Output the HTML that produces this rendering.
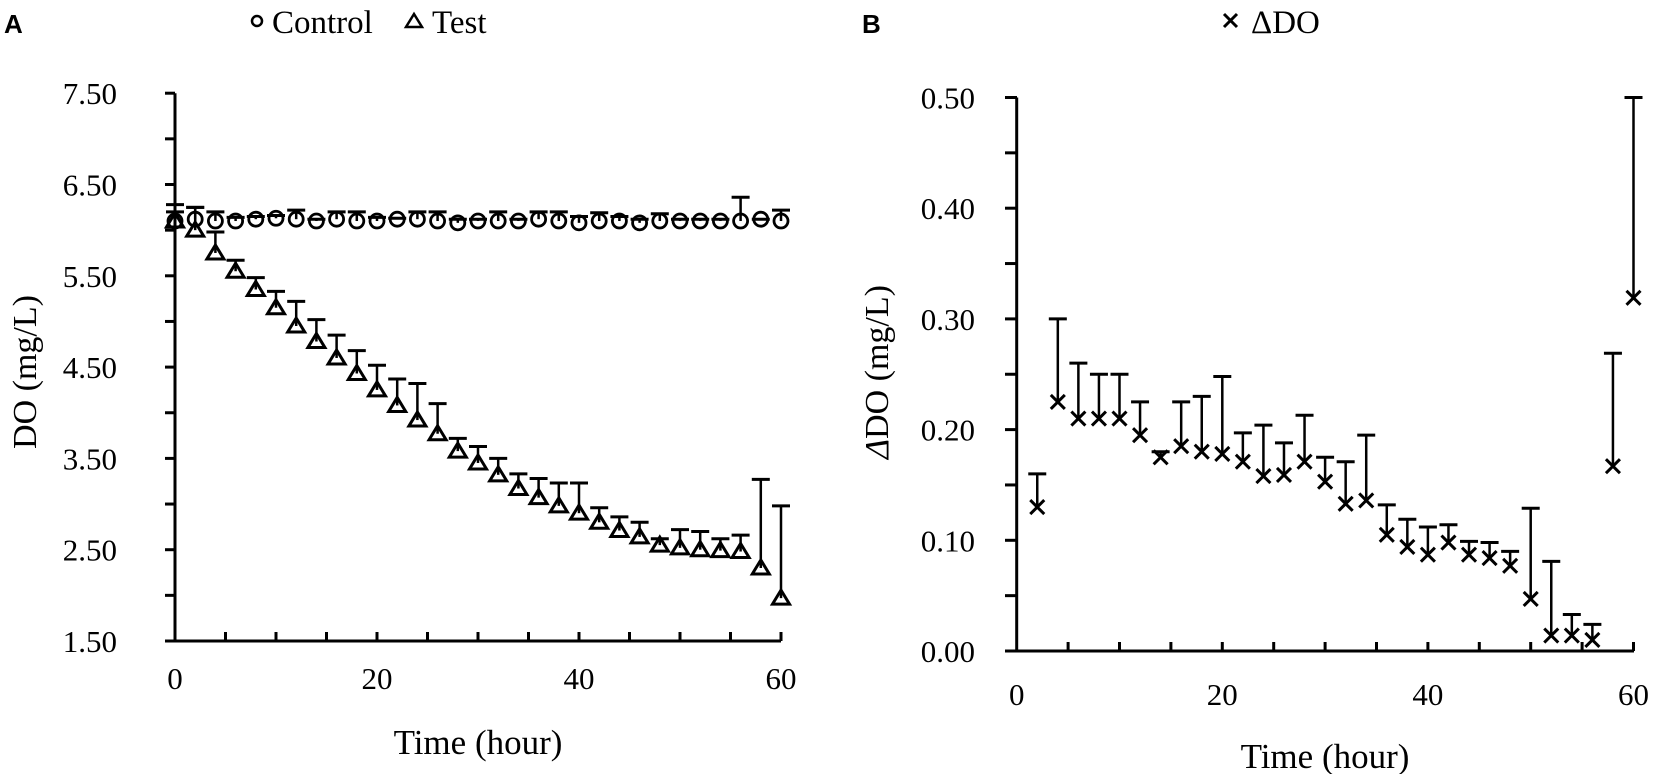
<!DOCTYPE html>
<html><head><meta charset="utf-8">
<style>
html,body{margin:0;padding:0;background:#fff;}
svg{display:block;}
text{font-family:"Liberation Serif",serif;fill:#000;}
</style></head>
<body>
<svg id="s" width="1656" height="774" viewBox="0 0 1656 774" xmlns="http://www.w3.org/2000/svg">
<text x="4" y="33" style="font-family:'Liberation Sans',sans-serif;font-weight:bold;font-size:26px">A</text>
<text x="862" y="33" style="font-family:'Liberation Sans',sans-serif;font-weight:bold;font-size:26px">B</text>
<circle cx="257" cy="21" r="5" fill="none" stroke="#000" stroke-width="2.5"/>
<text x="272" y="33" font-size="33">Control</text>
<polygon points="406,27 422,27 414,14" fill="none" stroke="#000" stroke-width="2.5"/>
<text x="432" y="33" font-size="33">Test</text>
<path d="M1224,14 L1237,27 M1237,14 L1224,27" stroke="#000" stroke-width="3"/>
<text x="1251" y="33" font-size="33">ΔDO</text>
<text transform="translate(36,372) rotate(-90)" text-anchor="middle" font-size="34">DO (mg/L)</text>
<text transform="translate(888,372) rotate(-90)" text-anchor="middle" font-size="34"><tspan font-style="italic">Δ</tspan>DO (mg/L)</text>
<text x="478" y="754" text-anchor="middle" font-size="35">Time (hour)</text>
<text x="1325" y="768" text-anchor="middle" font-size="35">Time (hour)</text>
<g id="g"></g>
</svg>
<script>
var g=document.getElementById('g'),h='';
function L(x1,y1,x2,y2,w){h+='<line x1="'+x1+'" y1="'+y1+'" x2="'+x2+'" y2="'+y2+'" stroke="#000" stroke-width="'+(w||3)+'"/>';}
function T(x,y,s,a){h+='<text x="'+x+'" y="'+y+'" font-size="31" text-anchor="'+(a||'middle')+'">'+s+'</text>';}
// Panel A
var ax=function(t){return 175+10.1*t}, ay=function(v){return 641-(v-1.5)*91.3};
L(175,ay(7.5),175,641);L(165,641,781,641);
for(var v=1.5;v<=7.51;v+=0.5){var y=ay(v);L(165,y,175,y);}
for(var v=1.5;v<=7.51;v+=1){T(117,ay(v)+11,v.toFixed(2),'end');}
for(var t=5;t<=60;t+=5){L(ax(t),641,ax(t),632);}
[0,20,40,60].forEach(function(t){T(ax(t),689,t)});
var ctl=[6.10,6.12,6.1,6.1,6.12,6.13,6.12,6.1,6.12,6.1,6.1,6.12,6.12,6.1,6.08,6.1,6.1,6.1,6.12,6.1,6.08,6.1,6.1,6.08,6.1,6.1,6.1,6.1,6.1,6.12,6.1];
var ctop=[6.28,6.25,6.2,6.14,6.15,6.16,6.22,6.12,6.2,6.2,6.14,6.13,6.2,6.2,6.12,6.12,6.2,6.12,6.2,6.2,6.15,6.19,6.15,6.12,6.18,6.12,6.12,6.12,6.36,6.12,6.22];
var tst=[6.1,6.0,5.75,5.55,5.35,5.15,4.95,4.78,4.6,4.43,4.25,4.08,3.92,3.77,3.58,3.45,3.32,3.17,3.07,2.98,2.9,2.8,2.71,2.64,2.55,2.52,2.5,2.49,2.48,2.3,1.97];
var ttop=[6.2,6.25,5.98,5.67,5.48,5.33,5.22,5.02,4.85,4.68,4.52,4.37,4.32,4.1,3.72,3.63,3.5,3.33,3.28,3.23,3.23,2.96,2.86,2.8,2.62,2.72,2.7,2.62,2.66,3.27,2.98];
for(var i=0;i<31;i++){var x=ax(2*i);
 L(x,ay(ctop[i]),x,ay(ctl[i]),2.5);L(x-9,ay(ctop[i]),x+9,ay(ctop[i]),3);
 L(x,ay(ttop[i]),x,ay(tst[i]),2.5);L(x-9,ay(ttop[i]),x+9,ay(ttop[i]),3);
}
for(var i=0;i<31;i++){var x=ax(2*i);
 h+='<circle cx="'+x+'" cy="'+ay(ctl[i])+'" r="7" fill="none" stroke="#000" stroke-width="2.8"/>';
 var y=ay(tst[i]);
 h+='<polygon points="'+(x-8.5)+','+(y+6)+' '+(x+8.5)+','+(y+6)+' '+x+','+(y-8)+'" fill="none" stroke="#000" stroke-width="3"/>';
}
// Panel B
var bx=function(t){return 1016.7+10.28*t}, by=function(v){return 651-1107*v};
L(1016.7,by(0.5),1016.7,651);L(1005,651,1634,651);
for(var k=0;k<=10;k++){var y=by(k*0.05);L(1005,y,1017,y);}
for(var k=0;k<=5;k++){T(975,by(k*0.1)+11,(k*0.1).toFixed(2),'end');}
for(var t=5;t<=60;t+=5){L(bx(t),651,bx(t),642);}
[0,20,40,60].forEach(function(t){T(bx(t),705,t)});
var dv=[0.13,0.225,0.21,0.21,0.21,0.195,0.175,0.185,0.18,0.178,0.171,0.158,0.159,0.171,0.153,0.133,0.136,0.105,0.094,0.087,0.098,0.087,0.084,0.077,0.047,0.014,0.014,0.010,0.167,0.319];
var dt=[0.16,0.30,0.26,0.25,0.25,0.225,0.18,0.225,0.23,0.248,0.197,0.204,0.188,0.213,0.175,0.171,0.195,0.132,0.119,0.112,0.114,0.099,0.098,0.090,0.129,0.081,0.033,0.024,0.269,0.50];
for(var i=0;i<30;i++){var x=bx(2+2*i),y=by(dv[i]),yt=by(dt[i]);
 L(x,yt,x,y,2.5);L(x-9,yt,x+9,yt,3);
 h+='<path d="M'+(x-7)+','+(y-7)+' L'+(x+7)+','+(y+7)+' M'+(x+7)+','+(y-7)+' L'+(x-7)+','+(y+7)+'" stroke="#000" stroke-width="3"/>';
}
g.innerHTML=h;
</script>
</body></html>
